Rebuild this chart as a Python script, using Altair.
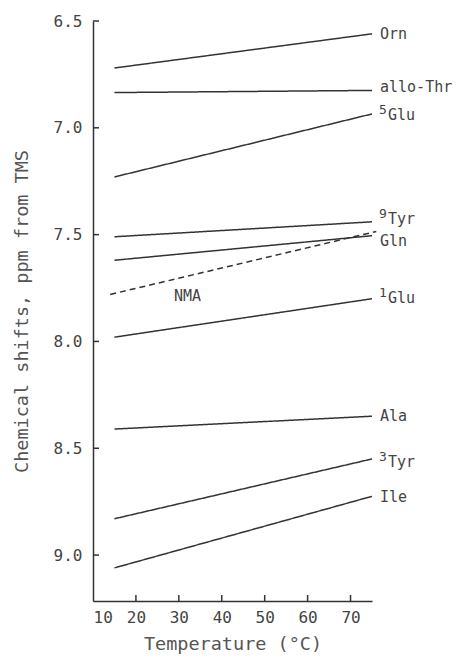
import altair as alt
import pandas as pd

# ---- data ----
names = ["Orn", "allo-Thr", "Glu5", "Tyr9", "Gln", "NMA", "Glu1", "Ala", "Tyr3", "Ile"]
t_start = [15, 15, 15, 15, 15, 14, 15, 15, 15, 15]
t_end = [75, 75, 75, 75, 75, 76, 75, 75, 75, 75]
shift_start = [6.72, 6.835, 7.23, 7.51, 7.62, 7.78, 7.98, 8.41, 8.83, 9.06]
shift_end = [6.56, 6.825, 6.935, 7.44, 7.505, 7.485, 7.80, 8.35, 8.55, 8.725]
style = ["solid", "solid", "solid", "solid", "solid", "dashed", "solid", "solid", "solid", "solid"]

# right-hand labels
lab_main = ["Orn", "allo-Thr", "Glu", "Tyr", "Gln", "Glu", "Ala", "Tyr", "Ile"]
lab_sup = ["", "", "5", "9", "", "1", "", "3", ""]
lab_y = [6.561, 6.81, 6.941, 7.425, 7.53, 7.798, 8.347, 8.563, 8.73]
lab_t = [75, 75, 75, 75, 75, 75, 75, 75, 75]

nma_text = ["NMA"]
nma_t = [32]
nma_y = [7.785]

y_ticks = [6.5, 7.0, 7.5, 8.0, 8.5, 9.0]
x_ticks = [10, 20, 30, 40, 50, 60, 70]
x_tick_marks = [20, 30, 40, 50, 60, 70]

W, H = 279, 580
FONT = "DejaVu Sans Mono"
INK = "#333333"
TXT = "#444444"

rows = []
for n, a, b, s0, s1, st in zip(names, t_start, t_end, shift_start, shift_end, style):
    rows.append({"name": n, "temp": a, "shift": s0, "style": st})
    rows.append({"name": n, "temp": b, "shift": s1, "style": st})
lines_df = pd.DataFrame(rows)

labels_df = pd.DataFrame({"main": lab_main, "sup": lab_sup, "y": lab_y, "t": lab_t})
nma_df = pd.DataFrame({"text": nma_text, "t": nma_t, "y": nma_y})

xscale = alt.Scale(domain=[10, 75], nice=False, zero=False)
yscale = alt.Scale(domain=[6.5, 9.215], reverse=True, nice=False, zero=False)

lines = alt.Chart(lines_df).mark_line(strokeWidth=1.5, color=INK).encode(
    x=alt.X("temp:Q", scale=xscale,
            axis=alt.Axis(values=x_ticks, title="Temperature (°C)", grid=False, ticks=False,
                          labelPadding=8, titlePadding=9)),
    y=alt.Y("shift:Q", scale=yscale,
            axis=alt.Axis(values=y_ticks, format=".1f", title="Chemical shifts, ppm from TMS",
                          grid=False, ticks=False, labelPadding=11, titlePadding=22)),
    detail="name:N",
    strokeDash=alt.StrokeDash("style:N",
                              scale=alt.Scale(domain=["solid", "dashed"], range=[[1, 0], [6, 4]]),
                              legend=None),
)

ytick_df = pd.DataFrame({"v": y_ticks})
yticks = alt.Chart(ytick_df).mark_rule(color=INK, strokeWidth=1.5).encode(
    y=alt.Y("v:Q", scale=yscale), x=alt.value(0), x2=alt.value(6)
)
xtick_df = pd.DataFrame({"v": x_tick_marks})
xticks = alt.Chart(xtick_df).mark_rule(color=INK, strokeWidth=1.5).encode(
    x=alt.X("v:Q", scale=xscale), y=alt.value(H), y2=alt.value(H - 6)
)

plain = alt.Chart(labels_df).transform_filter("datum.sup == ''").mark_text(
    align="left", baseline="middle", dx=8, font=FONT, fontSize=15, color=TXT
).encode(x=alt.X("t:Q", scale=xscale), y=alt.Y("y:Q", scale=yscale), text="main:N")

supmain = alt.Chart(labels_df).transform_filter("datum.sup != ''").mark_text(
    align="left", baseline="middle", dx=16, font=FONT, fontSize=15, color=TXT
).encode(x=alt.X("t:Q", scale=xscale), y=alt.Y("y:Q", scale=yscale), text="main:N")

supers = alt.Chart(labels_df).transform_filter("datum.sup != ''").mark_text(
    align="left", baseline="middle", dx=7, dy=-5, font=FONT, fontSize=13, color=TXT
).encode(x=alt.X("t:Q", scale=xscale), y=alt.Y("y:Q", scale=yscale), text="sup:N")

nma = alt.Chart(nma_df).mark_text(
    align="center", baseline="middle", font=FONT, fontSize=15, color=TXT
).encode(x=alt.X("t:Q", scale=xscale), y=alt.Y("y:Q", scale=yscale), text="text:N")

chart = alt.layer(lines, yticks, xticks, plain, supmain, supers, nma).properties(
    width=W, height=H,
    autosize=alt.AutoSizeParams(type="none"),
    padding={"left": 85, "top": 13, "right": 89, "bottom": 54},
).configure_view(stroke=None).configure_axis(
    domainColor=INK, domainWidth=1.5,
    labelFont=FONT, labelFontSize=16, labelColor=TXT,
    titleFont=FONT, titleFontSize=18.5, titleColor="#555555", titleFontWeight="normal",
)

chart.save("out.html", embed_options={"renderer": "svg", "actions": False})
